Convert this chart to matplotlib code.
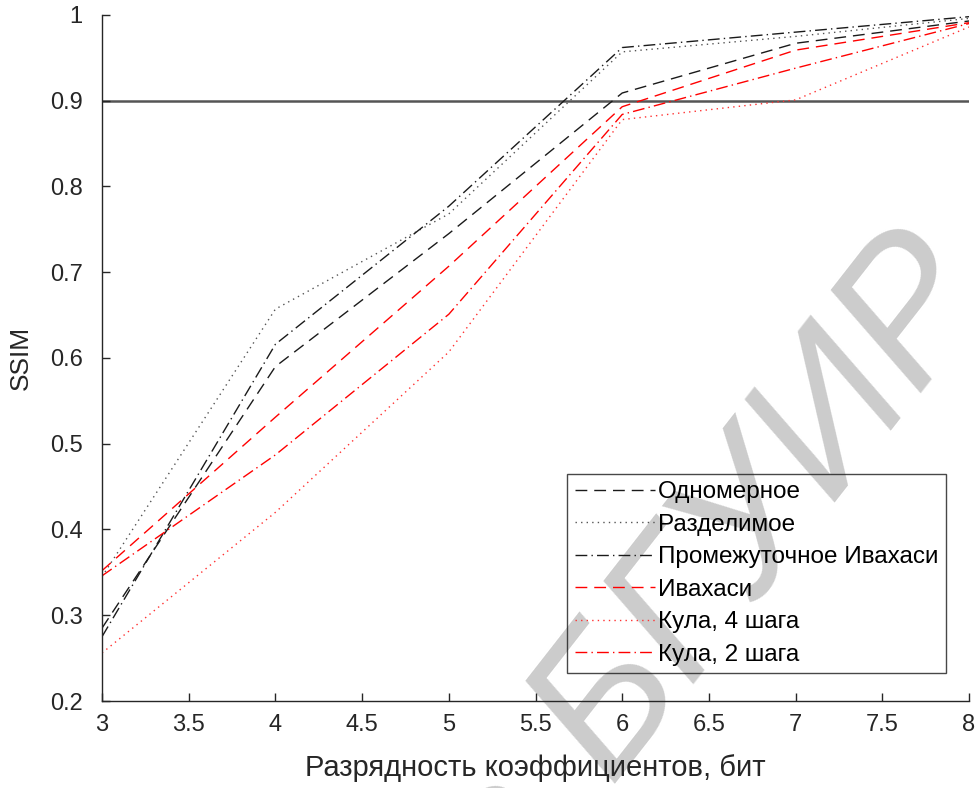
import numpy as np
import matplotlib
matplotlib.use('Agg')
import matplotlib.pyplot as plt

# -----------------------------
# Data
# -----------------------------
bits = [3, 4, 5, 6, 7, 8]

odnomernoe   = [0.285, 0.590, 0.745, 0.909, 0.967, 0.993]
razdelimoe   = [0.345, 0.657, 0.768, 0.957, 0.975, 0.996]
prom_ivahasi = [0.275, 0.616, 0.777, 0.962, 0.980, 0.998]
ivahasi      = [0.352, 0.531, 0.707, 0.893, 0.959, 0.991]
kula4        = [0.256, 0.420, 0.607, 0.878, 0.901, 0.986]
kula2        = [0.346, 0.487, 0.651, 0.884, 0.938, 0.990]

threshold = 0.9

labels = ['Одномерное', 'Разделимое', 'Промежуточное Ивахаси',
          'Ивахаси', 'Кула, 4 шага', 'Кула, 2 шага']

xticks = [3, 3.5, 4, 4.5, 5, 5.5, 6, 6.5, 7, 7.5, 8]
xtick_labels = ['3', '3.5', '4', '4.5', '5', '5.5', '6', '6.5', '7', '7.5', '8']
yticks = [0.2, 0.3, 0.4, 0.5, 0.6, 0.7, 0.8, 0.9, 1.0]
ytick_labels = ['0.2', '0.3', '0.4', '0.5', '0.6', '0.7', '0.8', '0.9', '1']

xlabel = 'Разрядность коэффициентов, бит'
ylabel = 'SSIM'
watermark = 'Библиотека БГУИР'

# -----------------------------
# Styles
# -----------------------------
DASH = (0, (8.5, 5))
DOT = (0, (1, 3))
DASHDOT = (0, (8.5, 3, 1, 3))

styles = [
    dict(color='#1a1a1a', linestyle=DASH),
    dict(color='#555555', linestyle=DOT),
    dict(color='#1a1a1a', linestyle=DASHDOT),
    dict(color='#ff0000', linestyle=DASH),
    dict(color='#ff3030', linestyle=DOT),
    dict(color='#ff0000', linestyle=DASHDOT),
]

plt.rcParams.update({
    'font.family': ['Liberation Sans', 'DejaVu Sans'],
    'font.size': 14,
})

fig = plt.figure(figsize=(9.78, 7.88), dpi=100)
ax = fig.add_axes([0.1043, 0.1104, 0.8865, 0.8706])
ax.patch.set_alpha(0)

# watermark behind everything
fig.text(1.02, 0.625, watermark, fontsize=140, color='#cccccc',
         rotation=52, rotation_mode='anchor', ha='right', va='baseline',
         zorder=-5, style='italic')

series = [odnomernoe, razdelimoe, prom_ivahasi, ivahasi, kula4, kula2]
for vals, lab, st in zip(series, labels, styles):
    ax.plot(bits, vals, label=lab, linewidth=1.0, **st)

ax.plot([bits[0], bits[-1]], [threshold, threshold], color='#555555',
        linewidth=1.8, zorder=1)

ax.set_xlim(3, 8)
ax.set_ylim(0.2, 1.0)
ax.set_xticks(xticks)
ax.set_xticklabels(xtick_labels)
ax.set_yticks(yticks)
ax.set_yticklabels(ytick_labels)

for s in ['top', 'right']:
    ax.spines[s].set_visible(False)
for s in ['left', 'bottom']:
    ax.spines[s].set_color('#262626')
    ax.spines[s].set_linewidth(1.0)
ax.tick_params(direction='in', length=6, width=1.0, colors='#262626',
               labelsize=17)
ax.tick_params(axis='y', pad=14)
ax.tick_params(axis='x', pad=9)

ax.set_xlabel(xlabel, fontsize=21, color='#262626', labelpad=13)
ax.set_ylabel(ylabel, fontsize=19, color='#262626', labelpad=12)

leg = ax.legend(loc='lower right', bbox_to_anchor=(0.9735, 0.0408),
                borderaxespad=0, fontsize=17.5, handlelength=3.3,
                handletextpad=0.15, labelspacing=0.43, borderpad=0.3,
                fancybox=False, frameon=True, facecolor='none')
leg.get_frame().set_edgecolor('#1a1a1a')
leg.get_frame().set_linewidth(1.0)

plt.savefig('out.png', dpi=100)
